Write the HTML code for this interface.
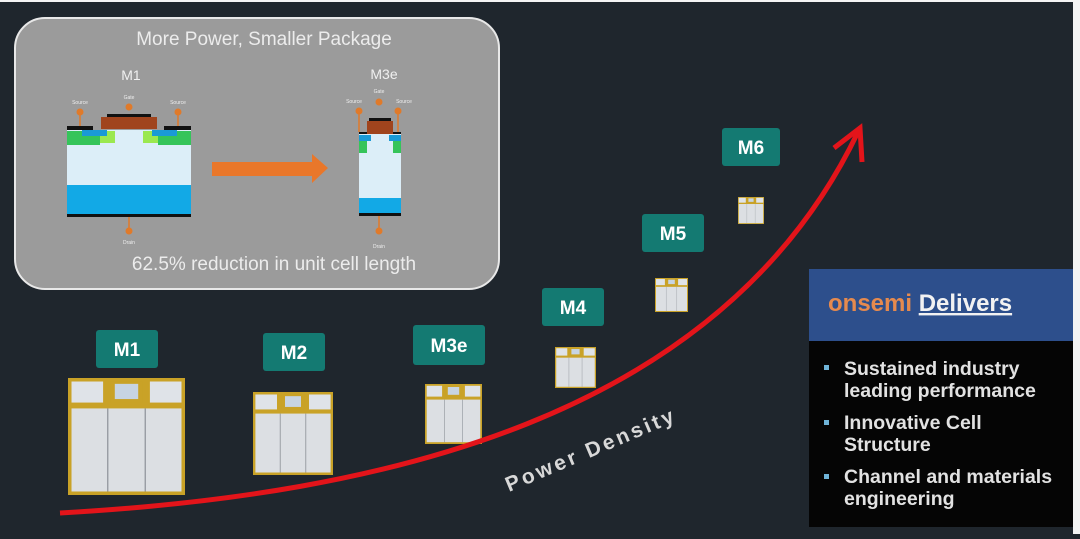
<!DOCTYPE html>
<html><head><style>
body{margin:0;width:1080px;height:534px;overflow:hidden;background:#1f262d;font-family:"Liberation Sans",sans-serif}
</style></head><body>
<svg width="1080" height="534" viewBox="0 0 1080 534" xmlns="http://www.w3.org/2000/svg" font-family="Liberation Sans, sans-serif">
<defs>
<g id="chip">
<rect x="0" y="0" width="100" height="100" fill="#c9a227"/>
<rect x="3" y="3" width="27" height="18" fill="#dfe3e8"/>
<rect x="36" y="3" width="28" height="18" fill="#c9a227"/>
<rect x="40" y="5" width="20" height="13" fill="#c7d4e2"/>
<rect x="70" y="3" width="27" height="18" fill="#dfe3e8"/>
<rect x="3" y="26" width="94" height="71" fill="#dcdfe3"/>
<line x1="34" y1="26" x2="34" y2="97" stroke="#8a8f96" stroke-width="1"/>
<line x1="66" y1="26" x2="66" y2="97" stroke="#8a8f96" stroke-width="1"/>
</g>
</defs>
<rect x="1073" y="0" width="7" height="534" fill="#f4f4f4"/>
<rect x="0" y="0" width="1080" height="2" fill="#f4f4f4"/>
<rect x="15" y="18" width="484" height="271" rx="30" fill="#9b9b9b" stroke="#e8e8e8" stroke-width="2"/>
<text x="264" y="45" font-size="19" fill="#ececec" text-anchor="middle">More Power, Smaller Package</text>
<text x="131" y="80" font-size="14" fill="#f0f0f0" text-anchor="middle">M1</text>
<text x="384" y="79" font-size="14" fill="#f0f0f0" text-anchor="middle">M3e</text>
<text x="274" y="270" font-size="19" fill="#ececec" text-anchor="middle">62.5% reduction in unit cell length</text>
<g>
<rect x="67" y="130" width="124" height="87" fill="#dceef8"/>
<rect x="67" y="185" width="124" height="30" fill="#12a9e6"/>
<rect x="67" y="214" width="124" height="3" fill="#111"/>
<rect x="67" y="131" width="33" height="14" fill="#35c45a"/>
<rect x="158" y="131" width="33" height="14" fill="#35c45a"/>
<rect x="100" y="131" width="15" height="12" fill="#9be84f"/>
<rect x="143" y="131" width="15" height="12" fill="#9be84f"/>
<rect x="82" y="130" width="25" height="6" fill="#1a9ad6"/>
<rect x="152" y="130" width="25" height="6" fill="#1a9ad6"/>
<rect x="67" y="126" width="26" height="4" fill="#111"/>
<rect x="164" y="126" width="27" height="4" fill="#111"/>
<rect x="101" y="117" width="56" height="12" fill="#a0441d"/>
<rect x="107" y="114" width="44" height="3" fill="#111"/>
<line x1="80" y1="112" x2="80" y2="126" stroke="#e07a2a" stroke-width="1.5"/><circle cx="80" cy="112" r="3.5" fill="#e07a2a"/>
<line x1="178" y1="112" x2="178" y2="126" stroke="#e07a2a" stroke-width="1.5"/><circle cx="178" cy="112" r="3.5" fill="#e07a2a"/>
<circle cx="129" cy="107" r="3.5" fill="#e07a2a"/>
<line x1="129" y1="217" x2="129" y2="230" stroke="#e07a2a" stroke-width="1.5"/><circle cx="129" cy="231" r="3.5" fill="#e07a2a"/>
<text x="80" y="104" font-size="5" fill="#eee" text-anchor="middle">Source</text>
<text x="178" y="104" font-size="5" fill="#eee" text-anchor="middle">Source</text>
<text x="129" y="99" font-size="5" fill="#eee" text-anchor="middle">Gate</text>
<text x="129" y="244" font-size="5" fill="#eee" text-anchor="middle">Drain</text>
</g>
<polygon points="212,162 312,162 312,154 328,168 312,183 312,176 212,176" fill="#e9772a"/>
<g>
<rect x="359" y="133" width="42" height="82" fill="#dceef8"/>
<rect x="359" y="198" width="42" height="15" fill="#12a9e6"/>
<rect x="359" y="213" width="42" height="3" fill="#111"/>
<rect x="359" y="135" width="8" height="18" fill="#35c45a"/>
<rect x="393" y="135" width="8" height="18" fill="#35c45a"/>
<rect x="359" y="135" width="12" height="6" fill="#1a9ad6"/>
<rect x="389" y="135" width="12" height="6" fill="#1a9ad6"/>
<rect x="359" y="132" width="42" height="2" fill="#111"/>
<rect x="367" y="121" width="26" height="13" fill="#a0441d"/>
<rect x="369" y="118" width="22" height="3" fill="#111"/>
<line x1="359" y1="111" x2="359" y2="132" stroke="#e07a2a" stroke-width="1.5"/><circle cx="359" cy="111" r="3.5" fill="#e07a2a"/>
<line x1="398" y1="111" x2="398" y2="132" stroke="#e07a2a" stroke-width="1.5"/><circle cx="398" cy="111" r="3.5" fill="#e07a2a"/>
<circle cx="379" cy="102" r="3.5" fill="#e07a2a"/>
<line x1="379" y1="216" x2="379" y2="230" stroke="#e07a2a" stroke-width="1.5"/><circle cx="379" cy="231" r="3.5" fill="#e07a2a"/>
<text x="354" y="103" font-size="5" fill="#eee" text-anchor="middle">Source</text>
<text x="404" y="103" font-size="5" fill="#eee" text-anchor="middle">Source</text>
<text x="379" y="93" font-size="5" fill="#eee" text-anchor="middle">Gate</text>
<text x="379" y="248" font-size="5" fill="#eee" text-anchor="middle">Drain</text>
</g>
<g font-weight="bold" fill="#fff" font-size="19" text-anchor="middle">
<rect x="96" y="330" width="62" height="38" rx="3" fill="#147a72"/><text x="127" y="356">M1</text>
<rect x="263" y="333" width="62" height="38" rx="3" fill="#147a72"/><text x="294" y="359">M2</text>
<rect x="413" y="325" width="72" height="40" rx="3" fill="#147a72"/><text x="449" y="352">M3e</text>
<rect x="542" y="288" width="62" height="38" rx="3" fill="#147a72"/><text x="573" y="314">M4</text>
<rect x="642" y="214" width="62" height="38" rx="3" fill="#147a72"/><text x="673" y="240">M5</text>
<rect x="722" y="128" width="58" height="38" rx="3" fill="#147a72"/><text x="751" y="154">M6</text>
</g>
<use href="#chip" transform="translate(68,378) scale(1.17,1.17)"/>
<use href="#chip" transform="translate(253,392) scale(0.8,0.83)"/>
<use href="#chip" transform="translate(425,384) scale(0.57,0.6)"/>
<use href="#chip" transform="translate(555,347) scale(0.41,0.41)"/>
<use href="#chip" transform="translate(655,278) scale(0.33,0.34)"/>
<use href="#chip" transform="translate(738,197) scale(0.26,0.27)"/>
<path d="M60,513 C 380,495 720,420 858,132" fill="none" stroke="#e3141a" stroke-width="5"/>
<polyline points="834,148 860,128 862,162" fill="none" stroke="#e3141a" stroke-width="5" stroke-linejoin="miter"/>
<text x="0" y="0" font-size="21" font-weight="bold" fill="#d8d8d8" letter-spacing="3" transform="translate(509,492) rotate(-23)">Power Density</text>
<rect x="809" y="269" width="264" height="72" fill="#2d4f8c"/>
<rect x="809" y="341" width="264" height="186" fill="#050505"/>
<text x="828" y="311" font-size="24" font-weight="bold"><tspan fill="#e68a4e">onsemi </tspan><tspan fill="#f2f2f2" text-decoration="underline">Delivers</tspan></text>
<g font-size="19.5" font-weight="bold" fill="#e2e2e2">
<rect x="824" y="365" width="5" height="5" fill="#6fb4d8"/>
<text x="844" y="375">Sustained industry</text><text x="844" y="397">leading performance</text>
<rect x="824" y="420" width="5" height="5" fill="#6fb4d8"/>
<text x="844" y="429">Innovative Cell</text><text x="844" y="451">Structure</text>
<rect x="824" y="474" width="5" height="5" fill="#6fb4d8"/>
<text x="844" y="483">Channel and materials</text><text x="844" y="505">engineering</text>
</g>
</svg>
</body></html>
